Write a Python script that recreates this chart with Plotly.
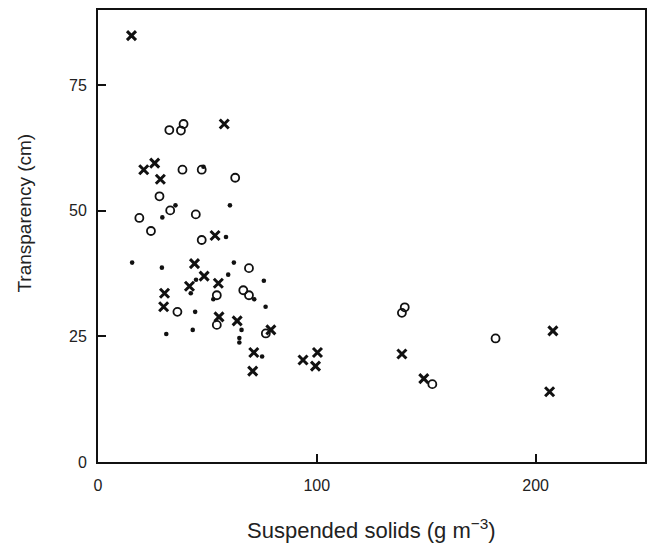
import plotly.graph_objects as go

# Crosses
cross_x = [15.3, 57.7, 20.9, 25.9, 28.5, 53.5, 44.1, 48.5, 41.8, 55.0, 30.4, 30.0,
           55.3, 63.6, 79.0, 71.2, 70.7, 93.7, 100.3, 99.4, 138.9, 148.9, 207.9, 206.4]
cross_y = [84.9, 67.3, 58.2, 59.5, 56.3, 45.1, 39.5, 37.0, 35.0, 35.6, 33.6, 30.9,
           28.9, 28.1, 26.3, 21.8, 18.1, 20.3, 21.8, 19.1, 21.5, 16.6, 26.1, 14.0]

# Open circles
circ_x = [32.6, 37.9, 39.1, 38.6, 47.4, 62.7, 28.1, 33.0, 18.9, 24.2, 44.7, 47.4,
          69.0, 54.3, 66.4, 69.0, 36.3, 54.3, 76.7, 140.2, 138.9, 181.7, 152.8]
circ_y = [66.1, 66.0, 67.3, 58.2, 58.2, 56.6, 52.9, 50.1, 48.6, 46.0, 49.3, 44.2,
          38.6, 33.2, 34.2, 33.2, 29.9, 27.3, 25.6, 30.8, 29.7, 24.6, 15.5]

# Filled dots
dot_x = [48.2, 35.4, 29.4, 60.3, 58.5, 15.6, 29.2, 62.1, 44.8, 59.5, 75.8, 42.4,
         52.7, 71.4, 44.4, 76.6, 65.6, 64.6, 64.6, 31.2, 43.3, 75.0]
dot_y = [58.8, 51.1, 48.7, 51.1, 44.8, 39.7, 38.7, 39.7, 36.3, 37.3, 36.1, 33.6,
         32.4, 32.4, 29.9, 30.9, 26.3, 24.7, 23.8, 25.5, 26.3, 21.0]

x_ticks = [0, 100, 200]
y_ticks = [0, 25, 50, 75]

ink = "#111111"

fig = go.Figure()
fig.add_trace(go.Scatter(x=circ_x, y=circ_y, mode="markers",
                         marker=dict(symbol="circle-open", size=8, color=ink,
                                     line=dict(width=1.8, color=ink))))
fig.add_trace(go.Scatter(x=dot_x, y=dot_y, mode="markers",
                         marker=dict(symbol="circle", size=4.6, color=ink)))
fig.add_trace(go.Scatter(x=cross_x, y=cross_y, mode="markers",
                         marker=dict(symbol="x-thin", size=9, color=ink,
                                     line=dict(width=3, color=ink))))

fig.update_layout(
    width=649, height=543,
    margin=dict(l=97.5, r=2.3, t=9.5, b=80.7),
    paper_bgcolor="white", plot_bgcolor="white",
    showlegend=False,
    font=dict(family="Liberation Sans, Arial, sans-serif", size=16, color="#222222"),
)
fig.update_xaxes(range=[0, 250], tickvals=x_ticks, ticktext=[str(v) for v in x_ticks],
                 ticks="inside", ticklen=8, tickwidth=1.5, tickcolor=ink,
                 showline=True, linecolor=ink, linewidth=2, mirror=True,
                 showgrid=False, zeroline=False, ticklabelstandoff=8)
fig.update_yaxes(range=[0, 90], tickvals=y_ticks, ticktext=[str(v) for v in y_ticks],
                 ticks="inside", ticklen=8, tickwidth=1.5, tickcolor=ink,
                 showline=True, linecolor=ink, linewidth=2, mirror=True,
                 showgrid=False, zeroline=False, ticklabelstandoff=6)

fig.add_annotation(text="Suspended solids (g m<sup>−3</sup>)", xref="paper", yref="paper",
                   x=0.5, y=-0.149, yanchor="middle", xanchor="center", showarrow=False,
                   font=dict(size=22, color="#222222"))
fig.add_annotation(text="Transparency (cm)", xref="paper", yref="paper",
                   x=-0.135, y=0.55, xanchor="center", yanchor="middle", textangle=-90,
                   showarrow=False, font=dict(size=19, color="#222222"))

fig.write_html("out.html", config={"displayModeBar": False},
               post_script="document.body.style.margin='0';document.body.style.overflow='hidden';")
